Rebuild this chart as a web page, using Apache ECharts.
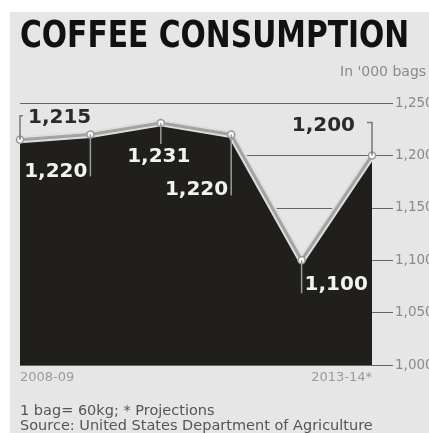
<!DOCTYPE html>
<html>
<head>
<meta charset="utf-8">
<script src="https://cdn.jsdelivr.net/npm/echarts@6/dist/echarts.min.js"></script>
<style>
  html, body { margin: 0; padding: 0; background: #fff; }
  #chart { width: 429px; height: 433px; }
</style>
</head>
<body>
<div id="chart"></div>
<script>
// data (in '000 bags)
var seasons = ['2008-09', '2009-10', '2010-11', '2011-12', '2012-13', '2013-14*']
var consumption = [1215, 1220, 1231, 1220, 1100, 1200]
var yTicks = { min: 1000, max: 1250, step: 50 }

// where each value label sits relative to its point (leader path + text anchor)
var labelPlacement = [
  { path: [[0, 0], [0, -24], [3, -24]], dx: 8, dy: -22, align: 'left', dark: true },
  { path: [[0, 0], [0, 42]], dx: -3, dy: 37, align: 'right', dark: false },
  { path: [[0, 0], [0, 21]], dx: -2, dy: 34, align: 'center', dark: false },
  { path: [[0, 0], [0, 61]], dx: -3, dy: 55, align: 'right', dark: false },
  { path: [[0, 0], [0, 33]], dx: 3, dy: 25, align: 'left', dark: false },
  { path: [[0, 0], [0, -33], [-5, -33]], dx: -17, dy: -30, align: 'right', dark: true }
]

function fmt(v) {
  return v.toLocaleString('en-US')
}

var chart = echarts.init(document.getElementById('chart'))

chart.setOption({
  backgroundColor: '#fff',
  animation: false,
  graphic: [{
    type: 'rect',
    z: -10,
    shape: { x: 10, y: 12, width: 419, height: 421 },
    style: { fill: '#e6e6e6' }
  }, {
    // headline, squeezed to look like the condensed original
    type: 'text',
    x: 20,
    y: 18,
    scaleX: 0.87,
    style: {
      text: 'COFFEE CONSUMPTION',
      verticalAlign: 'top',
      fontFamily: 'DejaVu Sans Condensed',
      fontWeight: 'bold',
      fontSize: 38,
      fill: '#111'
    }
  }],
  title: [{
    text: "In '000 bags",
    left: 340,
    top: 65,
    padding: 0,
    textStyle: { fontFamily: 'DejaVu Sans', fontWeight: 'normal', fontSize: 14, color: '#8a8a8a' }
  }, {
    text: '1 bag= 60kg; * Projections\nSource: United States Department of Agriculture',
    left: 20,
    top: 404,
    padding: 0,
    textStyle: { fontFamily: 'DejaVu Sans', fontWeight: 'normal', fontSize: 14.5, lineHeight: 15, color: '#555' }
  }],
  grid: { left: 20, right: 57, top: 103, bottom: 68, outerBoundsMode: 'none' },
  xAxis: {
    type: 'category',
    data: seasons,
    boundaryGap: false,
    axisLine: { show: false },
    axisTick: { show: false },
    axisLabel: {
      interval: function(i) { return i === 0 || i === seasons.length - 1 },
      alignMinLabel: 'left',
      alignMaxLabel: 'right',
      margin: 6,
      fontFamily: 'DejaVu Sans',
      fontSize: 13,
      color: '#9a9a9a'
    }
  },
  yAxis: {
    type: 'value',
    position: 'right',
    min: yTicks.min,
    max: yTicks.max,
    interval: yTicks.step,
    axisLine: { show: false },
    axisTick: { show: true, length: 21, lineStyle: { color: '#666', width: 1 } },
    splitLine: { lineStyle: { color: '#666', width: 1 } },
    axisLabel: {
      margin: 23,
      formatter: fmt,
      fontFamily: 'DejaVu Sans',
      fontSize: 13.5,
      color: '#8a8a8a'
    }
  },
  series: [{
    // dark area with the pale outer edge of the line
    type: 'line',
    data: consumption,
    symbol: 'none',
    lineStyle: { width: 7, color: '#dedede' },
    areaStyle: { color: '#201f1b', opacity: 1 },
    z: 2
  }, {
    type: 'line',
    data: consumption,
    symbol: 'circle',
    symbolSize: 7,
    lineStyle: { width: 3, color: '#a3a3a3' },
    itemStyle: { color: '#fafafa', borderColor: '#999', borderWidth: 1.5 },
    z: 3
  }, {
    // value labels with their leader lines
    type: 'custom',
    data: consumption.map(function(v, i) { return [i, v] }),
    z: 4,
    renderItem: function(params, api) {
      var p = labelPlacement[params.dataIndex]
      var pt = api.coord([api.value(0), api.value(1)])
      var pts = p.path.map(function(d) { return [pt[0] + d[0], pt[1] + d[1]] })
      return {
        type: 'group',
        children: [{
          type: 'polyline',
          z2: 1,
          shape: { points: pts },
          style: { stroke: p.dark ? '#777' : '#9a9a9a', lineWidth: 1.5, fill: null }
        }, {
          type: 'text',
          z2: 2,
          style: {
            text: fmt(api.value(1)),
            x: pt[0] + p.dx,
            y: pt[1] + p.dy,
            align: p.align,
            verticalAlign: 'middle',
            fontFamily: 'DejaVu Sans',
            fontWeight: 'bold',
            fontSize: 20,
            fill: p.dark ? '#2a2a2a' : '#f2f2f2'
          }
        }]
      }
    }
  }]
})
</script>
</body>
</html>
